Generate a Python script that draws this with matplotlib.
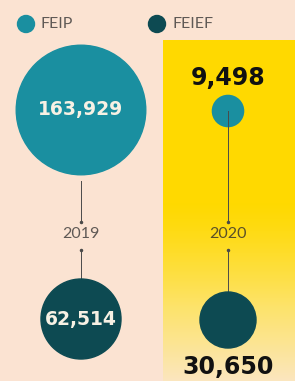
import numpy as np
import matplotlib
matplotlib.use('Agg')
import matplotlib.pyplot as plt
from matplotlib.patches import Circle
from matplotlib.colors import LinearSegmentedColormap

years = ['2019', '2020']
series = ['FEIP', 'FEIEF']
feip = [163929, 9498]
feief = [62514, 30650]
labels_feip = ['163,929', '9,498']
labels_feief = ['62,514', '30,650']

bg = '#FBE3D2'
teal = '#1A8FA0'
dark = '#0D4A52'
yellow = '#FFD900'

W, H = 295, 381
fig = plt.figure(figsize=(W / 100, H / 100), dpi=100, facecolor=bg)
ax = fig.add_axes([0, 0, 1, 1])
ax.set_xlim(0, W)
ax.set_ylim(H, 0)
ax.set_aspect('auto')
ax.axis('off')

# yellow panel behind 2020, fading at the bottom
cmap = LinearSegmentedColormap.from_list('fade', [yellow, '#FDE36A', '#FBE6BE'])
grad = np.concatenate([np.zeros(160), np.linspace(0, 1, 181) ** 1.3])[:, None]
ax.imshow(grad, cmap=cmap, extent=(163, W, H, 40), aspect='auto', zorder=0)

xs = [81, 228]
k = 0.16  # radius scale, r = k * sqrt(value)
top_y = [110, 111]
bot_y = [319, 320]
ycol = ['#5f5955', '#5a5028']

for i, x in enumerate(xs):
    r1 = k * np.sqrt(feip[i])
    r2 = k * np.sqrt(feief[i])
    # connecting lines
    y_start = top_y[i] + r1 + 6 if i == 0 else top_y[i]
    y_end = bot_y[i] - r2 if i == 0 else bot_y[i]
    ax.plot([x, x], [y_start, 222], color='#4a4a4a', lw=0.7, zorder=3)
    ax.plot([x, x], [250, y_end], color='#4a4a4a', lw=0.7, zorder=1)
    ax.plot([x, x], [222, 250], 'o', color='#4a4a4a', ms=1.5, zorder=3)
    ax.text(x, 234, years[i], ha='center', va='center', fontsize=11.5,
            color=ycol[i], family='Lato', zorder=4)
    ax.add_patch(Circle((x, top_y[i]), r1, color=teal, zorder=2))
    ax.add_patch(Circle((x, bot_y[i]), r2, color=dark, zorder=2))

# labels inside big circles, outside small ones
ax.text(xs[0], top_y[0], labels_feip[0], ha='center', va='center', color='#F7F1E4',
        fontsize=13.5, fontweight='bold', zorder=5)
ax.text(xs[0], bot_y[0], labels_feief[0], ha='center', va='center', color='#F7F1E4',
        fontsize=13.5, fontweight='bold', zorder=5)
ax.text(xs[1], 78, labels_feip[1], ha='center', va='center', color='#111111',
        fontsize=17, fontweight='bold', zorder=5)
ax.text(xs[1], 367, labels_feief[1], ha='center', va='center', color='#111111',
        fontsize=17, fontweight='bold', zorder=5)

# legend
for name, col, lx in zip(series, [teal, dark], [26, 157]):
    ax.add_patch(Circle((lx, 24), 8.5, color=col, zorder=5))
    ax.text(lx + 15, 24, name, ha='left', va='center', fontsize=11.5,
            color='#5f5955', family='Lato', zorder=5)

fig.savefig('out.png', dpi=100, facecolor=bg)
